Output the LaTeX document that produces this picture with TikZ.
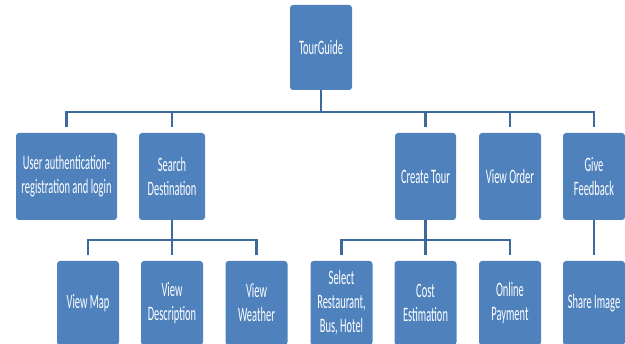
\documentclass[tikz,border=0pt]{standalone}
\usepackage{fontspec}
\newfontfamily\narrowfont[FakeStretch=0.51]{Carlito}
\definecolor{boxblue}{HTML}{4F81BD}
\definecolor{linkblue}{HTML}{3C6A9E}
\begin{document}
\begin{tikzpicture}[x=1pt,y=1pt,
  box/.style={fill=boxblue, rounded corners=3pt, inner sep=0pt,
    text=white, align=center,
    font=\narrowfont\fontsize{20.5}{24}\selectfont},
  conn/.style={draw=linkblue, line width=2.8pt}]
\useasboundingbox (0,0) rectangle (625,344);
\clip (0,0) rectangle (625,344);

% root
\node[box, minimum width=62pt, minimum height=85pt] (root) at (321,296.5) {TourGuide};

% second level
\tikzset{lvtwo/.style={box, minimum height=87pt}}
\node[lvtwo, minimum width=101pt] (ua) at (66.5,167.5) {User authentication-\\registration and login};
\node[lvtwo, minimum width=66pt] (sd) at (172,167.5) {Search\\Destination};
\node[lvtwo, minimum width=61pt] (ct) at (425.5,167.5) {Create Tour};
\node[lvtwo, minimum width=62pt] (vo) at (510,167.5) {View Order};
\node[lvtwo, minimum width=62pt] (gf) at (594,167.5) {Give\\Feedback};

% third level
\tikzset{lvthree/.style={box, minimum width=62pt, minimum height=84pt}}
\node[lvthree] (vm) at (88,41) {View Map};
\node[lvthree] (vd) at (172,41) {View\\Description};
\node[lvthree] (vw) at (256.5,41) {View\\Weather};
\node[lvthree] (sr) at (341.5,41) {Select\\Restaurant,\\Bus, Hotel};
\node[lvthree] (ce) at (425.5,41) {Cost\\Estimation};
\node[lvthree] (op) at (510,41) {Online\\Payment};
\node[lvthree] (si) at (594,41) {Share Image};

% bus levels
\coordinate (busA) at (0,232);
\coordinate (busB) at (0,104);

% connectors
\foreach \c in {ua,sd,ct,vo,gf}
  \draw[conn] (root.south) -- (root.south |- busA) -| ([yshift=6pt]\c.north);
\foreach \c in {vm,vd,vw}
  \draw[conn] (sd.south) -- (sd.south |- busB) -| ([yshift=6pt]\c.north);
\foreach \c in {sr,ce,op}
  \draw[conn] (ct.south) -- (ct.south |- busB) -| ([yshift=6pt]\c.north);
\draw[conn] (gf.south) -- ([yshift=6pt]si.north);
\end{tikzpicture}
\end{document}
